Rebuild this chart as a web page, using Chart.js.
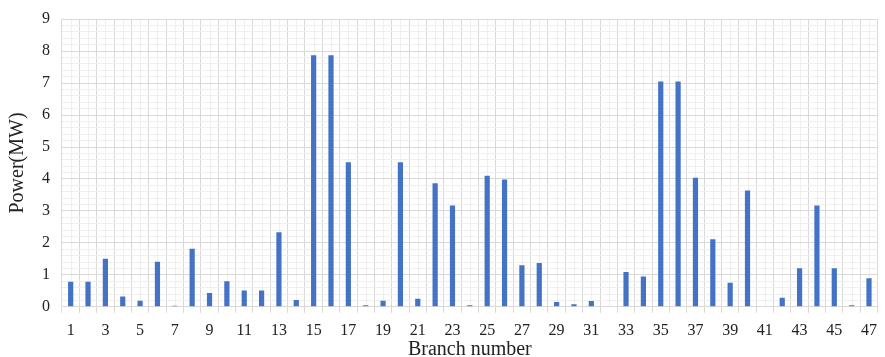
<!DOCTYPE html>
<html>
<head>
<meta charset="utf-8">
<script src="https://cdn.jsdelivr.net/npm/chart.js@4"></script>
<style>
  html, body { margin: 0; padding: 0; background: #fff; }
  #wrap { width: 885px; height: 357px; }
</style>
</head>
<body>
<div id="wrap"><canvas id="myChart"></canvas></div>
<script>
// branch numbers 1..47
const branches = ['1','2','3','4','5','6','7','8','9','10','11','12','13','14','15','16','17','18','19','20',
  '21','22','23','24','25','26','27','28','29','30','31','32','33','34','35','36','37','38','39','40',
  '41','42','43','44','45','46','47']

// power flow per branch (MW)
const power = [0.78, 0.78, 1.50, 0.32, 0.19, 1.41, 0.03, 1.82, 0.43, 0.80,
  0.51, 0.51, 2.33, 0.21, 7.87, 7.87, 4.52, 0.05, 0.19, 4.52,
  0.25, 3.87, 3.17, 0.05, 4.10, 3.98, 1.30, 1.37, 0.15, 0.08,
  0.18, 0.02, 1.09, 0.95, 7.05, 7.05, 4.04, 2.11, 0.75, 3.64,
  0.02, 0.28, 1.21, 3.17, 1.21, 0.05, 0.89]

const majorGrid = '#d9d9d9'
const minorGrid = '#efefef'
const font = 'Liberation Serif'

const isWhole = v => Math.abs(v - Math.round(v)) < 1e-6

// light vertical lines through the middle of every category
const minorX = {
  id: 'minorX',
  beforeDraw(chart) {
    const x = chart.scales.x
    const area = chart.chartArea
    const ctx = chart.ctx
    ctx.save()
    ctx.strokeStyle = minorGrid
    ctx.lineWidth = 1
    branches.forEach((b, i) => {
      const px = Math.round(x.getPixelForValue(i)) + 0.5
      ctx.beginPath()
      ctx.moveTo(px, area.top)
      ctx.lineTo(px, area.bottom)
      ctx.stroke()
    })
    ctx.restore()
  }
}

const canvas = document.getElementById('myChart')

new Chart(canvas, {
  type: 'bar',
  data: {
    labels: branches,
    datasets: [{
      label: 'Power',
      data: power,
      backgroundColor: '#4472c4',
      barPercentage: 0.6,
      categoryPercentage: 0.5
    }]
  },
  options: {
    responsive: true,
    maintainAspectRatio: false,
    animation: false,
    layout: { padding: { left: 6, right: 0, top: 0, bottom: 0 } },
    plugins: {
      legend: { display: false },
      tooltip: { enabled: false }
    },
    scales: {
      x: {
        offset: true,
        grid: {
          offset: true,
          color: majorGrid,
          tickLength: 6,
          tickColor: majorGrid
        },
        border: { color: majorGrid },
        ticks: {
          autoSkip: false,
          maxRotation: 0,
          padding: 8,
          color: '#222',
          font: { family: font, size: 16 },
          callback: (v, i) => (i % 2 === 0 ? branches[i] : '')
        },
        title: {
          display: true,
          text: 'Branch number',
          color: '#222',
          padding: { top: -10, bottom: -5 },
          font: { family: font, size: 20 }
        }
      },
      y: {
        min: 0,
        max: 9,
        ticks: {
          stepSize: 0.2,
          autoSkip: false,
          maxTicksLimit: 100,
          padding: 12,
          color: '#222',
          font: { family: font, size: 16, lineHeight: 0.9 },
          callback: v => (isWhole(v) ? Math.round(v) : '')
        },
        grid: {
          drawTicks: false,
          color: ctx => (ctx.tick && !isWhole(ctx.tick.value) ? minorGrid : majorGrid)
        },
        border: { display: false },
        title: {
          display: true,
          text: 'Power(MW)',
          color: '#222',
          padding: { top: 0, bottom: 0 },
          font: { family: font, size: 20 }
        }
      }
    }
  },
  plugins: [minorX]
})
</script>
</body>
</html>
